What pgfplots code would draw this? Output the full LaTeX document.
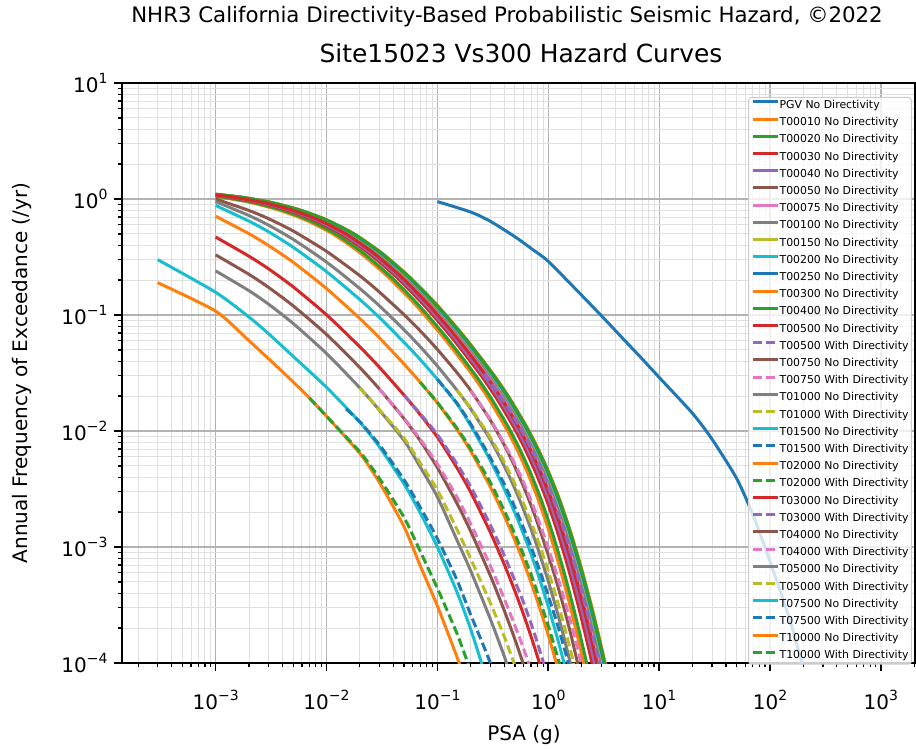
\documentclass[border=0pt]{standalone}
\usepackage{pgfplots}
\pgfplotsset{compat=1.18}
\usepackage{fontspec}
\setmainfont{DejaVu Sans}
\definecolor{C0}{HTML}{1F77B4}
\definecolor{C1}{HTML}{FF7F0E}
\definecolor{C2}{HTML}{2CA02C}
\definecolor{C3}{HTML}{D62728}
\definecolor{C4}{HTML}{9467BD}
\definecolor{C5}{HTML}{8C564B}
\definecolor{C6}{HTML}{E377C2}
\definecolor{C7}{HTML}{7F7F7F}
\definecolor{C8}{HTML}{BCBD22}
\definecolor{C9}{HTML}{17BECF}
\newcommand{\tp}[1]{10\raisebox{0.42em}{\fontsize{14}{14}\selectfont #1}}
\pgfplotsset{
  nd/.style={line width=3pt, solid, smooth, tension=0.4},
  wd/.style={line width=3pt, dash pattern=on 9pt off 4pt, smooth, tension=0.4},
}
\begin{document}
\begin{tikzpicture}[x=1pt,y=1pt]
\useasboundingbox (-122,-85) rectangle (794,663);
\begin{axis}[
  at={(0,0)}, anchor=south west,
  scale only axis, width=793pt, height=580pt,
  xmode=log, ymode=log,
  xmin=1.43e-4, xmax=2.03e3, ymin=1e-4, ymax=10,
  xtick={1e-3,1e-2,1e-1,1,10,100,1000},
  xticklabels={\tp{−3},\tp{−2},\tp{−1},\tp{0},\tp{1},\tp{2},\tp{3}},
  ytick={1e-4,1e-3,1e-2,1e-1,1,10},
  yticklabels={\tp{−4},\tp{−3},\tp{−2},\tp{−1},\tp{0},\tp{1}},
  minor xtick={2e-4,3e-4,4e-4,5e-4,6e-4,7e-4,8e-4,9e-4,
    2e-3,3e-3,4e-3,5e-3,6e-3,7e-3,8e-3,9e-3,
    2e-2,3e-2,4e-2,5e-2,6e-2,7e-2,8e-2,9e-2,
    0.2,0.3,0.4,0.5,0.6,0.7,0.8,0.9,2,3,4,5,6,7,8,9,
    20,30,40,50,60,70,80,90,200,300,400,500,600,700,800,900,2000},
  minor ytick={2e-4,3e-4,4e-4,5e-4,6e-4,7e-4,8e-4,9e-4,
    2e-3,3e-3,4e-3,5e-3,6e-3,7e-3,8e-3,9e-3,
    2e-2,3e-2,4e-2,5e-2,6e-2,7e-2,8e-2,9e-2,
    0.2,0.3,0.4,0.5,0.6,0.7,0.8,0.9,2,3,4,5,6,7,8,9},
  grid=both,
  major grid style={line width=1.3pt, color=black!30},
  minor grid style={line width=0.9pt, color=black!12},
  tick align=outside, tick pos=left,
  major tick length=8pt, minor tick length=4.5pt,
  every major tick/.append style={black, line width=1.6pt},
  every minor tick/.append style={black, line width=1.2pt},
  axis line style={line width=2.5pt},
  tick label style={font=\fontsize{20}{24}\selectfont},
  xticklabel style={yshift=-16pt},
  yticklabel style={xshift=-3pt},
  legend cell align=left,
  legend image code/.code={\draw[#1] (0pt,3.8pt) -- (25pt,3.8pt);},
  legend style={at={(0.9962,0.976)}, anchor=north east,
    font=\fontsize{10.9}{12}\selectfont,
    draw=black!20, line width=1pt, rounded corners=3pt,
    fill=white, fill opacity=0.8, text opacity=1, draw opacity=1,
    inner xsep=3pt, inner ysep=3pt,
    row sep=6.9pt,
    nodes={inner sep=0pt, text height=7.8pt, text depth=2.2pt},
    /tikz/every even column/.append style={column sep=9pt}},
]
% PGV
\addplot[C0, nd] coordinates {(0.1,0.95)(0.2,0.772)(0.3,0.643)(0.5,0.473)(0.7,0.375)(1,0.29)(2,0.148)(3,0.099)(5,0.059)(7,0.042)(10,0.029)(20,0.0142)(30,0.0085)(50,0.0039)(70,0.0019)(100,0.00075)(150,0.00024)(200,0.00009)};
\addlegendentry{PGV No Directivity}
\addplot[C1, nd] coordinates {(0.001,1.05)(0.001138,1.032)(0.002024,0.936)(0.003599,0.811)(0.0064,0.663)(0.01138,0.5005)(0.02024,0.3418)(0.03599,0.2127)(0.064,0.1213)(0.1138,0.0639)(0.2024,0.03134)(0.2859,0.01933)(0.4038,0.01112)(0.5084,0.00731)(0.64,0.00453)(0.8058,0.00261)(1.0144,0.001368)(1.2768,0.000655)(1.6077,0.000286)(2.0237,0.0001138)(2.5478,0.0000413)};
\addlegendentry{T00010 No Directivity}
\addplot[C2, nd] coordinates {(0.001,1.058)(0.001209,1.032)(0.00215,0.936)(0.003824,0.811)(0.0068,0.663)(0.01209,0.5005)(0.0215,0.3418)(0.03824,0.2127)(0.068,0.1213)(0.1209,0.0639)(0.215,0.03134)(0.3038,0.01933)(0.4291,0.01112)(0.5401,0.00731)(0.68,0.00453)(0.8561,0.00261)(1.0778,0.001368)(1.3566,0.000655)(1.7082,0.000286)(2.1502,0.0001138)(2.7071,0.0000413)};
\addlegendentry{T00020 No Directivity}
\addplot[C3, nd] coordinates {(0.001,1.072)(0.001351,1.032)(0.002403,0.936)(0.004273,0.811)(0.0076,0.663)(0.01351,0.5005)(0.02403,0.3418)(0.04273,0.2127)(0.076,0.1213)(0.1351,0.0639)(0.2403,0.03134)(0.3395,0.01933)(0.4796,0.01112)(0.6037,0.00731)(0.76,0.00453)(0.9568,0.00261)(1.2046,0.001368)(1.5162,0.000655)(1.9091,0.000286)(2.4031,0.0001138)(3.0256,0.0000413)};
\addlegendentry{T00030 No Directivity}
\addplot[C4, nd] coordinates {(0.001,1.078)(0.001422,1.032)(0.00253,0.936)(0.004498,0.811)(0.008,0.663)(0.01422,0.5005)(0.0253,0.3418)(0.04498,0.2127)(0.08,0.1213)(0.1422,0.0639)(0.253,0.03134)(0.3574,0.01933)(0.5048,0.01112)(0.6354,0.00731)(0.8,0.00453)(1.0072,0.00261)(1.268,0.001368)(1.596,0.000655)(2.0096,0.000286)(2.5296,0.0001138)(3.1848,0.0000413)};
\addlegendentry{T00040 No Directivity}
\addplot[C5, nd] coordinates {(0.001,1.086)(0.001547,1.032)(0.002751,0.936)(0.004892,0.811)(0.0087,0.663)(0.01547,0.5005)(0.02751,0.3418)(0.04892,0.2127)(0.087,0.1213)(0.1547,0.0639)(0.2751,0.03134)(0.3886,0.01933)(0.549,0.01112)(0.691,0.00731)(0.87,0.00453)(1.0953,0.00261)(1.379,0.001368)(1.7357,0.000655)(2.1854,0.000286)(2.7509,0.0001138)(3.4635,0.0000413)};
\addlegendentry{T00050 No Directivity}
\addplot[C6, nd] coordinates {(0.001,1.089)(0.0016,1.032)(0.002846,0.936)(0.005061,0.811)(0.009,0.663)(0.016,0.5005)(0.02846,0.3418)(0.05061,0.2127)(0.09,0.1213)(0.16,0.0639)(0.2846,0.03134)(0.402,0.01933)(0.5679,0.01112)(0.7149,0.00731)(0.9,0.00453)(1.1331,0.00261)(1.4265,0.001368)(1.7955,0.000655)(2.2608,0.000286)(2.8458,0.0001138)(3.5829,0.0000413)};
\addlegendentry{T00075 No Directivity}
\addplot[C7, nd] coordinates {(0.001,1.093)(0.001654,1.032)(0.002941,0.936)(0.005229,0.811)(0.0093,0.663)(0.01654,0.5005)(0.02941,0.3418)(0.05229,0.2127)(0.093,0.1213)(0.1654,0.0639)(0.2941,0.03134)(0.4154,0.01933)(0.5868,0.01112)(0.7387,0.00731)(0.93,0.00453)(1.1709,0.00261)(1.4741,0.001368)(1.8554,0.000655)(2.3362,0.000286)(2.9407,0.0001138)(3.7023,0.0000413)};
\addlegendentry{T00100 No Directivity}
\addplot[C8, nd] coordinates {(0.001,1.096)(0.001707,1.032)(0.003036,0.936)(0.005398,0.811)(0.0096,0.663)(0.01707,0.5005)(0.03036,0.3418)(0.05398,0.2127)(0.096,0.1213)(0.1707,0.0639)(0.3036,0.03134)(0.4288,0.01933)(0.6058,0.01112)(0.7625,0.00731)(0.96,0.00453)(1.2086,0.00261)(1.5216,0.001368)(1.9152,0.000655)(2.4115,0.000286)(3.0355,0.0001138)(3.8218,0.0000413)};
\addlegendentry{T00150 No Directivity}
\addplot[C9, nd] coordinates {(0.001,1.097)(0.001725,1.032)(0.003067,0.936)(0.005454,0.811)(0.0097,0.663)(0.01725,0.5005)(0.03067,0.3418)(0.05454,0.2127)(0.097,0.1213)(0.1725,0.0639)(0.3067,0.03134)(0.4333,0.01933)(0.6121,0.01112)(0.7705,0.00731)(0.97,0.00453)(1.2212,0.00261)(1.5375,0.001368)(1.9352,0.000655)(2.4366,0.000286)(3.0671,0.0001138)(3.8616,0.0000413)};
\addlegendentry{T00200 No Directivity}
\addplot[C0, nd] coordinates {(0.001,1.098)(0.001742,1.032)(0.003099,0.936)(0.00551,0.811)(0.0098,0.663)(0.01742,0.5005)(0.03099,0.3418)(0.05511,0.2127)(0.098,0.1213)(0.1742,0.0639)(0.3099,0.03134)(0.4378,0.01933)(0.6184,0.01112)(0.7784,0.00731)(0.98,0.00453)(1.2338,0.00261)(1.5533,0.001368)(1.9551,0.000655)(2.4618,0.000286)(3.0988,0.0001138)(3.9014,0.0000413)};
\addlegendentry{T00250 No Directivity}
\addplot[C1, nd] coordinates {(0.001,1.1)(0.001778,1.032)(0.003162,0.936)(0.005623,0.811)(0.01,0.663)(0.01778,0.5005)(0.03162,0.3418)(0.05623,0.2127)(0.1,0.1213)(0.1778,0.0639)(0.3162,0.03134)(0.4467,0.01933)(0.631,0.01112)(0.7943,0.00731)(1.0,0.00453)(1.259,0.00261)(1.585,0.001368)(1.995,0.000655)(2.512,0.000286)(3.162,0.0001138)(3.981,0.0000413)};
\addlegendentry{T00300 No Directivity}
\addplot[C2, nd] coordinates {(0.001,1.099)(0.00176,1.032)(0.00313,0.936)(0.005567,0.811)(0.0099,0.663)(0.0176,0.5005)(0.0313,0.3418)(0.05567,0.2127)(0.099,0.1213)(0.176,0.0639)(0.313,0.03134)(0.4422,0.01933)(0.6247,0.01112)(0.7864,0.00731)(0.99,0.00453)(1.2464,0.00261)(1.5692,0.001368)(1.975,0.000655)(2.4869,0.000286)(3.1304,0.0001138)(3.9412,0.0000413)};
\addlegendentry{T00400 No Directivity}
\addplot[C3, nd] coordinates {(0.001,1.083)(0.001494,1.032)(0.002656,0.936)(0.004723,0.811)(0.0084,0.663)(0.01494,0.5005)(0.02656,0.3418)(0.04723,0.2127)(0.084,0.1213)(0.1494,0.0639)(0.2656,0.03134)(0.3752,0.01933)(0.53,0.01112)(0.6672,0.00731)(0.84,0.00453)(1.0576,0.00261)(1.3314,0.001368)(1.6758,0.000655)(2.1101,0.000286)(2.6561,0.0001138)(3.344,0.0000413)};
\addlegendentry{T00500 No Directivity}
\addplot[C4, wd] coordinates {(0.2656,0.03134)(0.379,0.01933)(0.5427,0.01112)(0.687,0.00731)(0.87,0.00453)(1.1016,0.00261)(1.3948,0.001368)(1.7556,0.000655)(2.2106,0.000286)(2.7826,0.0001138)(3.5033,0.0000413)};
\addlegendentry{T00500 With Directivity}
\addplot[C5, nd] coordinates {(0.001,1.0)(0.002,0.796)(0.003,0.677)(0.005,0.53)(0.01,0.354)(0.02,0.218)(0.03,0.1577)(0.05,0.1006)(0.07,0.073)(0.1,0.0505)(0.15,0.0319)(0.2,0.0223)(0.3,0.0124)(0.4,0.0076)(0.5,0.00492)(0.6,0.0033)(0.7,0.00228)(0.8,0.00161)(1.0,0.000853)(1.2,0.000485)(1.4,0.000287)(1.6,0.000175)(1.8,0.000109)(2.0,0.0000694)};
\addlegendentry{T00750 No Directivity}
\addplot[C6, wd] coordinates {(0.2,0.0223)(0.3,0.0126)(0.4,0.0078)(0.5,0.0052)(0.6,0.0036)(0.7,0.0025)(0.8,0.0018)(1.0,0.00098)(1.2,0.00057)(1.4,0.00035)(1.6,0.000222)(1.8,0.000144)(2.0,0.000095)(2.2,0.000064)};
\addlegendentry{T00750 With Directivity}
\addplot[C7, nd] coordinates {(0.001,0.95)(0.002,0.72)(0.003,0.595)(0.005,0.449)(0.01,0.286)(0.02,0.1688)(0.03,0.12)(0.05,0.0747)(0.07,0.0533)(0.1,0.0363)(0.15,0.0225)(0.2,0.01549)(0.3,0.00843)(0.4,0.00502)(0.5,0.00318)(0.6,0.00209)(0.7,0.00142)(0.8,0.00099)(1.0,0.000507)(1.2,0.000278)(1.4,0.00016)(1.6,0.000095)(1.8,0.000058)};
\addlegendentry{T01000 No Directivity}
\addplot[C8, wd] coordinates {(0.15,0.0225)(0.2,0.0157)(0.3,0.0088)(0.4,0.0054)(0.5,0.0035)(0.6,0.00236)(0.7,0.00163)(0.8,0.00116)(0.9,0.00084)(1.0,0.00062)(1.2,0.00035)(1.4,0.000205)(1.6,0.000125)(1.8,0.000078)(2.0,0.00005)};
\addlegendentry{T01000 With Directivity}
\addplot[C9, nd] coordinates {(0.001,0.88)(0.002,0.644)(0.003,0.522)(0.005,0.384)(0.01,0.2365)(0.02,0.1358)(0.03,0.0951)(0.05,0.0582)(0.07,0.0413)(0.1,0.0279)(0.15,0.01716)(0.2,0.0111)(0.3,0.00558)(0.4,0.00318)(0.5,0.00197)(0.6,0.00128)(0.7,0.000866)(0.8,0.0006)(1.0,0.000307)(1.2,0.000168)(1.4,0.0000966)(1.6,0.0000574)};
\addlegendentry{T01500 No Directivity}
\addplot[C0, wd] coordinates {(0.1,0.0279)(0.15,0.0174)(0.2,0.0115)(0.3,0.0059)(0.4,0.0035)(0.5,0.0022)(0.6,0.00145)(0.7,0.001)(0.8,0.00071)(1.0,0.00038)(1.2,0.00022)(1.4,0.000132)(1.6,0.000082)(1.8,0.00005)};
\addlegendentry{T01500 With Directivity}
\addplot[C1, nd] coordinates {(0.001,0.71)(0.002,0.502)(0.003,0.397)(0.005,0.285)(0.01,0.169)(0.02,0.0931)(0.03,0.0636)(0.05,0.0378)(0.07,0.0263)(0.1,0.01745)(0.15,0.0103)(0.2,0.0067)(0.3,0.0033)(0.4,0.00186)(0.5,0.00114)(0.6,0.000736)(0.7,0.000493)(0.8,0.000339)(1.0,0.000174)(1.2,0.0000954)(1.4,0.00006)};
\addlegendentry{T02000 No Directivity}
\addplot[C2, wd] coordinates {(0.07,0.0263)(0.1,0.0176)(0.15,0.0106)(0.2,0.007)(0.3,0.0036)(0.4,0.00207)(0.5,0.00129)(0.6,0.00085)(0.7,0.00058)(0.8,0.0004)(1.0,0.00021)(1.2,0.000117)(1.4,0.00007)};
\addlegendentry{T02000 With Directivity}
\addplot[C3, nd] coordinates {(0.001,0.47)(0.002,0.321)(0.003,0.25)(0.005,0.175)(0.01,0.1004)(0.02,0.0531)(0.03,0.0354)(0.05,0.0204)(0.07,0.01385)(0.1,0.00886)(0.15,0.00482)(0.2,0.00296)(0.3,0.00134)(0.4,0.000712)(0.5,0.000417)(0.6,0.00026)(0.7,0.000169)(0.8,0.000113)(0.9,0.0000775)};
\addlegendentry{T03000 No Directivity}
\addplot[C4, wd] coordinates {(0.05,0.0204)(0.07,0.0141)(0.1,0.0093)(0.15,0.0052)(0.2,0.0033)(0.3,0.00155)(0.4,0.00085)(0.5,0.00051)(0.6,0.00033)(0.7,0.000218)(0.8,0.000148)(0.9,0.000102)(1.0,0.00007)};
\addlegendentry{T03000 With Directivity}
\addplot[C5, nd] coordinates {(0.001,0.33)(0.002,0.224)(0.003,0.173)(0.005,0.12)(0.01,0.068)(0.02,0.0352)(0.03,0.023)(0.05,0.01277)(0.07,0.00825)(0.1,0.00483)(0.15,0.00238)(0.2,0.00136)(0.3,0.000568)(0.4,0.000285)(0.5,0.00016)(0.6,0.000096)(0.7,0.00006)};
\addlegendentry{T04000 No Directivity}
\addplot[C6, wd] coordinates {(0.03,0.023)(0.05,0.0129)(0.07,0.0085)(0.1,0.0052)(0.15,0.0027)(0.2,0.00158)(0.3,0.00069)(0.4,0.00036)(0.5,0.00021)(0.6,0.000132)(0.7,0.000087)(0.8,0.00006)};
\addlegendentry{T04000 With Directivity}
\addplot[C7, nd] coordinates {(0.001,0.24)(0.002,0.162)(0.003,0.124)(0.005,0.0845)(0.01,0.0466)(0.02,0.0235)(0.03,0.0151)(0.05,0.0083)(0.07,0.0049)(0.1,0.0027)(0.15,0.00115)(0.2,0.00062)(0.3,0.00024)(0.4,0.000115)(0.5,0.00006)};
\addlegendentry{T05000 No Directivity}
\addplot[C8, wd] coordinates {(0.02,0.0235)(0.03,0.0153)(0.05,0.0087)(0.07,0.0053)(0.1,0.0031)(0.15,0.00142)(0.2,0.00079)(0.3,0.00033)(0.4,0.00017)(0.5,0.000095)(0.6,0.00006)};
\addlegendentry{T05000 With Directivity}
\addplot[C9, nd] coordinates {(3e-4,0.30)(1e-3,0.157)(2e-3,0.096)(3e-3,0.069)(5e-3,0.044)(0.01,0.0238)(0.02,0.0119)(0.03,0.0073)(0.05,0.0035)(0.07,0.00197)(0.1,0.001)(0.15,0.00041)(0.2,0.000195)(0.25,0.0001)(0.3,0.000057)};
\addlegendentry{T07500 No Directivity}
\addplot[C0, wd] coordinates {(0.015,0.0155)(0.02,0.012)(0.03,0.0076)(0.05,0.0038)(0.07,0.0022)(0.1,0.00118)(0.15,0.00052)(0.2,0.00026)(0.3,0.0001)(0.4,0.00004)};
\addlegendentry{T07500 With Directivity}
\addplot[C1, nd] coordinates {(3e-4,0.19)(1e-3,0.108)(2e-3,0.06)(3e-3,0.042)(5e-3,0.0265)(7e-3,0.0193)(0.01,0.0134)(0.02,0.0064)(0.03,0.0036)(0.05,0.0015)(0.07,0.00069)(0.1,0.00031)(0.15,0.000113)(0.2,0.000052)};
\addlegendentry{T10000 No Directivity}
\addplot[C2, wd] coordinates {(0.007,0.0193)(0.01,0.0134)(0.02,0.0066)(0.03,0.0039)(0.05,0.0018)(0.07,0.00092)(0.1,0.00044)(0.15,0.00018)(0.2,0.000085)(0.3,0.00003)};
\addlegendentry{T10000 With Directivity}
\end{axis}
\node[font=\fontsize{21.3}{24}\selectfont] at (385,646) {NHR3 California Directivity-Based Probabilistic Seismic Hazard, ©2022};
\node[font=\fontsize{24.9}{28}\selectfont] at (399,610) {Site15023 Vs300 Hazard Curves};
\node[font=\fontsize{20}{24}\selectfont, rotate=90] at (-100,290) {Annual Frequency of Exceedance (/yr)};
\node[font=\fontsize{20}{24}\selectfont] at (402,-72) {PSA (g)};
\end{tikzpicture}
\end{document}
